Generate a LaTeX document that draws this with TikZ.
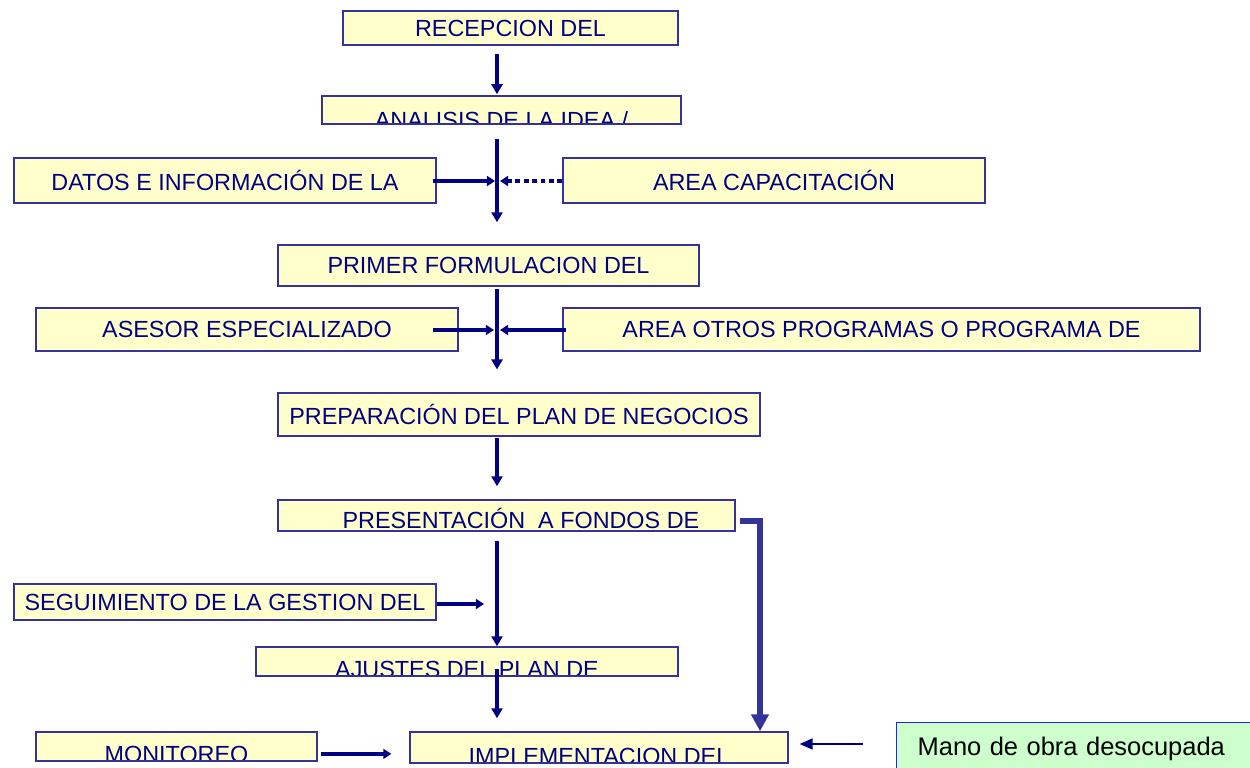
\documentclass[tikz,border=0pt]{standalone}
\usepackage{fontspec}
\setmainfont{Liberation Sans}
\usepackage{tikz}
\usetikzlibrary{positioning,arrows.meta}
\usepackage{xcolor}
\definecolor{navy}{HTML}{000080}
\definecolor{indigo}{HTML}{333399}
\definecolor{paleyellow}{HTML}{FFFFCC}
\definecolor{palegreen}{HTML}{CCFFCC}
\definecolor{brightblue}{HTML}{2222FF}
\newcommand{\pxl}{0.02cm}
\newcommand{\boxfont}{\fontsize{13.3}{16}\selectfont}

\begin{document}
\begin{tikzpicture}[
    x = 0.02cm, y = -0.02cm,
    > = {Triangle[width=6.2pt, length=5.7pt]},
    box/.style={draw=indigo, line width=0.8pt, fill=paleyellow, text=navy, font=\boxfont, inner sep=0pt},
    cut/.style n args={3}{path picture={\node[anchor=base, draw=none, fill=none, text=navy, font=\boxfont, inner sep=0pt] at ([xshift=#2, yshift=#3]path picture bounding box.south) {#1};}},
    flow/.style={->, navy, line width=2.8pt},
    feed/.style={-{Triangle[width=5.6pt, length=4.6pt]}, navy, line width=2.6pt},
    bypass/.style={-{Triangle[width=9.6pt, length=9.6pt]}, indigo, line width=3.1pt},
    thinflow/.style={-{Triangle[width=6.2pt, length=7.4pt]}, navy, line width=1.1pt}
]
    \useasboundingbox (0,0) rectangle (1250,767);
    \clip (0,0) rectangle (1250,767);

    % main column
    \node[box, minimum width=335*\pxl, minimum height=34*\pxl] (recepcion) at (510.5,28) {RECEPCION DEL};
    \node[box, minimum width=359*\pxl, minimum height=28*\pxl, cut={ANALISIS DE LA IDEA /}{0pt}{-2.3pt}] (analisis) at (501.5,110) {};
    \node[box, minimum width=421*\pxl, minimum height=41*\pxl] (primer) at (488.5,265.5) {PRIMER FORMULACION DEL};
    \node[box, minimum width=482*\pxl, minimum height=43*\pxl] (preparacion) at (519,414.5) {PREPARACIÓN DEL PLAN DE NEGOCIOS};
    \node[box, minimum width=457*\pxl, minimum height=31*\pxl, cut={PRESENTACIÓN\ \ A FONDOS DE}{8.2pt}{1.7pt}] (presentacion) at (506.5,515.5) {};
    \node[box, minimum width=422*\pxl, minimum height=29*\pxl, cut={AJUSTES DEL PLAN DE}{0pt}{-1.1pt}] (ajustes) at (467,661.5) {};
    \node[box, minimum width=378*\pxl, minimum height=31*\pxl, cut={IMPLEMENTACION DEL}{0pt}{-0.6pt}] (implementacion) at (599,747.5) {};

    % side boxes
    \node[box, minimum width=422*\pxl, minimum height=45*\pxl] (datos) at (225,180.5) {DATOS E INFORMACIÓN DE LA};
    \node[box, minimum width=422*\pxl, minimum height=45*\pxl] (capacitacion) at (774,180.5) {AREA CAPACITACIÓN};
    \node[box, minimum width=422*\pxl, minimum height=43*\pxl] (asesor) at (247,329.5) {ASESOR ESPECIALIZADO};
    \node[box, minimum width=637*\pxl, minimum height=43*\pxl] (otros) at (881.5,329.5) {AREA OTROS PROGRAMAS O PROGRAMA DE};
    \node[box, minimum width=422*\pxl, minimum height=36*\pxl] (seguimiento) at (225,602) {SEGUIMIENTO DE LA GESTION DEL};
    \node[box, minimum width=281*\pxl, minimum height=29*\pxl, cut={MONITOREO}{0pt}{-1.1pt}] (monitoreo) at (176.5,746.5) {};
    \node[draw=brightblue, line width=0.8pt, fill=palegreen, anchor=north west, align=left,
          text width=12cm, inner xsep=11.9pt, inner ysep=8.2pt, text height=10.5pt, text depth=25pt,
          font=\fontsize{14.5}{17}\selectfont] (mano) at (896,722) {Mano de obra desocupada};

    \coordinate (spine) at (497,0);
    \coordinate (j1) at (497,181);
    \coordinate (j2) at (497,330);
    \coordinate (j3) at (497,604);
    \coordinate (bend) at (760,521);
    \coordinate (k) at (0,744);

    % spine arrows
    \draw[flow, shorten <=4.5pt, shorten >=0.6pt] (recepcion.south -| spine) -- (analisis.north -| spine);
    \draw[flow, shorten <=7.9pt, shorten >=12.5pt] (analisis.south -| spine) -- (primer.north -| spine);
    \draw[flow, shorten <=1.1pt, shorten >=13pt] (primer.south -| spine) -- (preparacion.north -| spine);
    \draw[flow, shorten <=0.6pt, shorten >=7.4pt] (preparacion.south -| spine) -- (presentacion.north -| spine);
    \draw[flow, shorten <=5.1pt] (presentacion.south -| spine) -- (ajustes.north -| spine);
    \draw[flow, shorten <=-4.5pt, shorten >=7.4pt] (ajustes.south -| spine) -- (implementacion.north -| spine);

    % inputs
    \draw[feed, shorten <=-2.3pt, shorten >=1.1pt] (datos.east |- j1) -- (j1);
    \draw[feed, dash pattern=on 2.8pt off 2pt, shorten >=1.7pt] (capacitacion.west |- j1) -- (j1);
    \draw[feed, shorten <=-14.7pt, shorten >=1.7pt] (asesor.east |- j2) -- (j2);
    \draw[feed, shorten <=-2.3pt, shorten >=1.7pt] (otros.west |- j2) -- (j2);
    \draw[feed, line width=2.3pt, shorten >=7.4pt] (seguimiento.east |- j3) -- (j3);
    \draw[feed, line width=2.3pt, shorten <=1.7pt, shorten >=10.2pt] ([yshift=-4.2pt]monitoreo.east) -- ([yshift=-4.2pt]monitoreo.east -| implementacion.west);
    \draw[bypass, shorten <=2.3pt] (presentacion.east |- bend) -- (bend) -- (bend |- implementacion.north);
    \draw[thinflow, shorten <=18.7pt, shorten >=6.2pt] (mano.west |- k) -- (implementacion.east |- k);
\end{tikzpicture}
\end{document}
